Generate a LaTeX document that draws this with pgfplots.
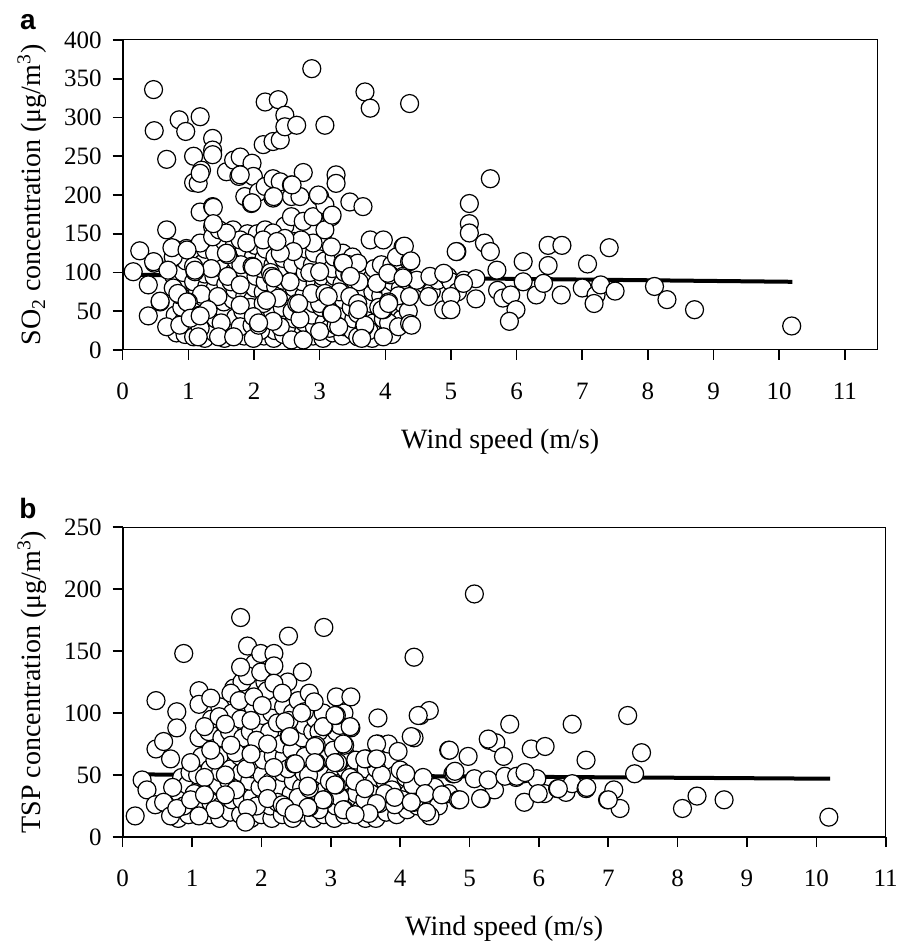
\documentclass[border=0pt]{standalone}
\usepackage{fontspec}
\setmainfont{Liberation Serif}
\newfontfamily\panelfont{Liberation Sans}
\usepackage{pgfplots}
\pgfplotsset{compat=1.18}

\newcommand\labfont{\fontsize{14}{16}\selectfont}
\pgfplotsset{
  panel/.style={
    scale only axis, height=155pt,
    xmin=0, ymin=0,
    xtick={0,1,...,11},
    tick align=outside, xtick pos=left, ytick pos=left,
    major tick length=5pt,
    every tick/.style={black, line width=0.8pt},
    axis line style={line width=0.5pt},
    tick label style={font=\fontsize{12.5}{14}\selectfont},
    xticklabel style={yshift=-8pt},
    yticklabel style={xshift=-2pt},
    /pgf/number format/assume math mode=true,
    scaled ticks=false,
    every axis x label/.style={at={(axis description cs:0.5,0)}, anchor=center, yshift=-46pt, font=\labfont},
  },
  dots/.style={only marks, mark=*, mark size=4.5pt,
    mark options={fill=white, draw=black, line width=0.6pt}},
  fit/.style={line width=2pt, black, no marks},
}

\begin{document}
\begin{tikzpicture}
% panel a: SO2
\begin{axis}[panel, width=377.5pt, xmax=11.5, ymax=400,
  ytick={0,50,...,400},
  xlabel={Wind speed (m/s)},
  ylabel={SO\textsubscript{2} concentration (μg/m\textsuperscript{3})},
  every axis y label/.style={at={(axis description cs:-0.12,0.5)}, rotate=90, anchor=center, font=\labfont},
  at={(0,0)}, anchor=south west]
\addplot[dots] coordinates {
(0.82,22) (0.8,45) (0.78,95) (0.85,110)
(0.95,20) (0.93,38) (0.97,85) (0.92,100) (0.96,115)
(1.12,25) (1.1,55) (1.14,75) (1.08,88) (1.12,120)
(1.25,15) (1.27,35) (1.24,60) (1.28,82) (1.25,98) (1.22,112) (1.26,130)
(1.4,22) (1.42,40) (1.38,58) (1.41,80) (1.39,95) (1.43,110) (1.4,125)
(1.55,15) (1.53,30) (1.56,48) (1.54,62) (1.57,85) (1.52,105) (1.55,140)
(1.7,25) (1.72,42) (1.68,65) (1.71,78) (1.69,100) (1.73,115) (1.7,135) (1.68,155)
(1.85,18) (1.87,40) (1.83,50) (1.86,70) (1.84,95) (1.88,118) (1.85,130) (1.9,150)
(2.0,22) (2.02,50) (1.98,65) (2.01,80) (2.03,95) (1.99,120) (2.02,135) (2.05,150)
(2.15,18) (2.13,28) (2.16,45) (2.14,75) (2.17,88) (2.12,105) (2.15,118) (2.18,130)
(2.3,15) (2.32,25) (2.28,50) (2.31,70) (2.33,82) (2.29,110) (2.32,120)
(2.45,20) (2.47,35) (2.43,55) (2.46,75) (2.44,90) (2.48,105) (2.45,118) (2.47,160)
(2.6,25) (2.62,40) (2.58,50) (2.61,80) (2.63,95) (2.59,110) (2.62,140)
(2.75,22) (2.77,35) (2.73,50) (2.76,70) (2.74,88) (2.78,100) (2.75,115) (2.8,130)
(2.9,18) (2.92,30) (2.88,45) (2.91,60) (2.93,85) (2.89,110) (2.92,125)
(3.05,15) (3.07,35) (3.03,55) (3.06,85) (3.04,95) (3.08,115) (3.05,140)
(3.2,22) (3.22,40) (3.18,60) (3.21,80) (3.23,95) (3.19,105) (3.22,120)
(3.35,18) (3.37,30) (3.33,50) (3.36,65) (3.34,85) (3.38,100) (3.35,125)
(3.5,25) (3.52,40) (3.48,55) (3.51,78) (3.53,90) (3.5,120)
(3.65,20) (3.67,42) (3.63,65) (3.66,80) (3.64,95)
(3.8,15) (3.82,35) (3.78,60) (3.81,75) (3.79,92) (3.83,105)
(3.95,25) (3.97,40) (3.93,70) (3.96,85) (3.94,110)
(4.1,20) (4.12,45) (4.08,75) (4.11,88) (4.1,110)
(4.25,40) (4.27,60) (4.23,80) (4.26,105)
(4.5,80) (4.6,85) (4.7,75) (4.8,90) (4.95,95) (5.0,88) (5.1,75) (5.2,90)
(0.9,55) (1.05,30) (1.2,72) (1.35,105) (1.5,35) (1.65,88) (1.8,110)
(1.95,55) (2.1,25) (2.25,100) (2.4,30) (2.55,88) (2.7,40) (2.85,100)
(3.0,60) (3.15,28) (3.3,75) (3.45,110) (3.6,88) (3.75,25) (3.9,55)
(4.05,35) (4.2,70) (4.35,50)
(0.16,101) (0.26,128) (0.47,336) (0.48,283) (0.39,44) (0.48,112) (0.39,84)
(0.57,62) (0.67,246) (0.67,155) (0.67,30) (0.86,297) (0.77,131) (0.77,120)
(0.77,80) (0.87,71) (0.87,32) (0.97,131) (0.96,282) (1.18,301) (1.08,250)
(1.2,232) (1.08,216) (1.18,178) (1.37,185) (1.37,273) (1.37,258) (1.37,252)
(1.18,138) (1.37,159) (1.37,146) (1.08,108) (1.1,101) (1.0,62) (1.08,49)
(1.18,45) (1.08,17) (1.18,28) (1.45,69) (1.46,17) (1.58,230) (1.69,245)
(1.79,249) (1.77,224) (1.47,155) (1.6,123) (1.6,95) (1.79,142) (1.79,84)
(1.79,58) (1.79,30) (1.69,17) (1.97,241) (1.99,224) (1.86,198) (1.96,189)
(1.89,138) (1.97,108) (1.97,32) (1.99,15) (2.14,265) (2.17,320) (2.29,269)
(2.4,271) (2.37,323) (2.47,303) (2.47,288) (2.65,290) (2.07,204) (2.17,211)
(2.29,221) (2.29,196) (2.4,217) (2.57,213) (2.57,198) (2.7,198) (2.75,229)
(2.57,172) (2.75,166) (2.9,172) (2.9,138) (2.72,142) (2.17,155) (2.29,151)
(2.47,144) (2.6,127) (2.4,125) (2.14,142) (2.27,95) (2.14,60) (2.37,67)
(2.07,32) (2.29,37) (2.57,13) (2.75,13) (2.65,60) (2.88,363) (3.08,290)
(3.0,198) (3.08,187) (3.18,172) (3.08,155) (3.18,133) (3.25,226) (3.25,215)
(3.46,191) (3.66,185) (2.88,73) (3.0,101) (3.08,73) (3.18,47) (3.0,24)
(3.25,32) (3.35,112) (3.46,97) (3.46,69) (3.58,112) (3.58,60) (3.58,47)
(3.68,30) (3.58,17) (3.69,333) (3.77,312) (3.77,142) (3.97,142) (3.87,86)
(3.97,52) (4.05,62) (4.07,97) (3.97,17) (4.2,30) (4.27,133) (4.17,120)
(4.37,114) (4.37,318) (4.27,95) (4.37,69) (4.37,34) (4.29,134) (4.39,115)
(0.47,114) (0.57,63) (0.75,132) (0.69,103) (0.84,73) (0.98,129) (0.98,62)
(1.03,41) (1.1,103) (1.3,52) (1.58,125) (1.58,151) (1.99,107) (1.99,43)
(2.07,35) (2.19,64) (2.3,93) (2.35,140) (1.97,190) (1.79,226) (1.15,215)
(1.18,228) (2.3,198) (1.38,184) (1.38,163) (1.15,17) (1.18,44)
(2.98,200) (3.19,174) (2.58,213) (3.36,112) (3.47,95) (4.04,99) (3.95,52)
(3.69,32) (3.59,52) (3.64,15) (3.29,30) (3.19,47) (3.13,69) (2.68,60)
(4.48,90) (4.68,95) (4.89,99) (4.66,69) (4.89,52) (4.4,32) (4.05,60)
(4.27,93) (5.09,127)
(5.6,221) (5.28,189) (5.28,163) (5.28,151) (5.08,127) (5.51,138) (5.6,127)
(5.7,103) (5.38,92) (5.19,86) (5.0,69) (5.0,52) (5.38,66) (5.71,77)
(5.79,67) (5.91,71) (5.99,52) (5.89,37) (6.1,114) (6.1,88) (6.3,71)
(6.41,86) (6.48,135) (6.69,135) (6.48,109) (6.68,71) (7.0,80) (7.08,111)
(7.21,71) (7.18,60) (7.28,84) (7.5,76) (7.41,132) (8.1,82) (8.29,65)
(8.71,52) (10.19,31)
};
\addplot[fit] coordinates {(0.2,97) (10.2,88)};
\draw[line width=1pt] (rel axis cs:0,1) -- (rel axis cs:0,0) -- (rel axis cs:1,0);
\end{axis}

% panel b: TSP
\begin{axis}[panel, width=381.5pt, xmax=11, ymax=250,
  ytick={0,50,...,250},
  xlabel={Wind speed (m/s)},
  ylabel={TSP concentration (μg/m\textsuperscript{3})},
  every axis y label/.style={at={(axis description cs:-0.1187,0.5)}, rotate=90, anchor=center, font=\labfont},
  at={(0,-243.5pt)}, anchor=south west]
\addplot[dots] coordinates {
(0.82,35) (0.85,48) (0.8,15)
(0.95,18) (0.93,42) (0.97,52)
(1.1,25) (1.12,40) (1.08,50) (1.14,65) (1.1,80)
(1.25,18) (1.27,28) (1.23,45) (1.26,55) (1.24,85) (1.28,95)
(1.4,15) (1.42,25) (1.38,42) (1.41,52) (1.39,65) (1.43,80) (1.4,105)
(1.55,20) (1.57,30) (1.53,45) (1.56,55) (1.54,85) (1.58,100) (1.6,120)
(1.7,18) (1.72,30) (1.68,40) (1.71,52) (1.69,65) (1.73,80) (1.7,95) (1.72,125)
(1.85,15) (1.87,32) (1.83,45) (1.86,55) (1.84,85) (1.88,105) (1.9,140)
(2.0,18) (2.02,28) (1.98,40) (2.01,50) (2.03,62) (1.99,88) (2.02,98) (2.05,125)
(2.15,15) (2.13,25) (2.16,35) (2.14,45) (2.17,65) (2.12,85) (2.15,100) (2.18,110)
(2.3,18) (2.32,30) (2.28,40) (2.31,52) (2.33,65) (2.29,75) (2.32,105)
(2.45,15) (2.47,25) (2.43,35) (2.46,45) (2.44,70) (2.48,88) (2.45,100)
(2.6,20) (2.62,30) (2.58,40) (2.61,52) (2.63,65) (2.59,80) (2.62,90)
(2.75,15) (2.77,28) (2.73,45) (2.76,55) (2.74,85) (2.78,95)
(2.9,18) (2.92,38) (2.88,50) (2.91,65) (2.93,78) (2.89,100)
(3.05,15) (3.07,25) (3.03,35) (3.06,50) (3.04,70) (3.08,85)
(3.2,18) (3.22,30) (3.18,45) (3.21,55) (3.23,65) (3.19,100)
(3.35,25) (3.37,35) (3.33,52) (3.36,62)
(3.5,15) (3.52,25) (3.48,45) (3.51,55)
(3.65,15) (3.67,35) (3.63,45) (3.66,55)
(3.8,20) (3.82,30) (3.78,45)
(3.95,18) (3.97,40) (3.93,50)
(4.1,22) (4.12,35) (4.08,48)
(4.25,25) (4.27,38)
(4.45,28) (4.5,40) (4.55,25)
(0.72,40) (0.88,25) (1.03,35) (1.18,48) (1.33,22) (1.48,50) (1.63,38)
(1.78,55) (1.93,25) (2.08,42) (2.23,28) (2.38,55) (2.53,32) (2.68,50)
(2.83,22) (2.98,45) (3.13,32) (3.28,48) (3.43,22) (3.58,35) (3.73,50)
(3.88,38) (4.03,30) (4.18,42) (4.33,48) (1.33,62) (1.63,68) (1.93,78)
(2.23,92) (2.53,110) (2.83,85) (3.13,90) (2.38,125) (2.08,118)
(0.18,17) (0.28,46) (0.35,38) (0.48,110) (0.48,71) (0.59,77) (0.47,26)
(0.59,28) (0.69,17) (0.69,63) (0.78,101) (0.78,88) (0.78,23) (0.88,148)
(0.98,60) (0.98,30) (1.1,118) (1.1,107) (1.18,89) (1.27,112) (1.27,70)
(1.18,34) (1.1,17) (1.39,97) (1.48,91) (1.48,34) (1.56,74) (1.7,177)
(1.8,154) (1.8,130) (1.7,137) (1.8,23) (1.77,12) (1.56,116) (1.68,110)
(1.85,94) (1.85,67) (1.89,113) (1.99,148) (1.99,133) (2.18,148) (2.18,138)
(2.18,124) (2.01,106) (2.09,75) (2.18,56) (2.09,31) (2.39,162) (2.3,116)
(2.4,94) (2.4,81) (2.47,59) (2.3,26) (2.59,133) (2.62,101) (2.69,116)
(2.76,109) (2.79,74) (2.79,60) (2.69,39) (2.69,24) (2.9,169) (2.9,89)
(2.91,30) (3.08,113) (3.08,98) (3.1,60) (3.08,42) (3.29,113) (3.29,88)
(3.2,74) (3.2,22) (3.51,63) (3.49,30) (3.68,96) (3.68,75) (3.7,27)
(3.83,75) (3.97,69) (4.0,54) (3.92,26) (4.2,145) (4.2,80) (4.29,98)
(4.42,102) (4.2,28) (4.43,17) (4.7,70) (4.7,35)
(2.58,100) (2.89,89) (3.06,98) (3.28,89) (2.34,93) (2.41,81) (2.77,73)
(3.18,75) (3.66,75) (4.16,81) (4.26,98) (3.49,63) (3.66,63) (2.77,60)
(3.06,60) (2.49,59) (4.08,51) (4.76,51) (2.67,41) (3.06,42) (3.35,45)
(3.49,39) (3.78,35) (3.92,32) (4.36,35) (4.6,34) (4.84,30) (2.89,30)
(2.67,24) (3.18,22) (3.66,27) (3.55,19) (4.16,28) (4.38,20) (2.34,24)
(2.47,19) (3.35,18)
(5.07,196) (5.58,91) (5.28,78) (5.38,76) (5.49,65) (4.98,65) (4.71,70)
(4.78,51) (5.07,47) (4.86,30) (5.17,31) (5.36,38) (5.67,48) (5.79,51)
(5.89,71) (6.09,73) (5.97,47) (5.79,28) (6.08,35) (6.27,39) (6.39,36)
(6.48,91) (6.48,43) (6.68,62) (6.68,39) (6.99,30) (7.08,38) (7.17,23)
(7.28,98) (7.48,68) (7.38,51) (8.07,23) (8.28,33) (8.67,30) (10.18,16)
(5.27,79) (4.79,53) (5.27,46) (5.51,49) (5.68,49) (5.8,52) (5.16,31)
(5.99,35) (6.28,39) (6.69,40) (7.0,30)
};
\addplot[fit] coordinates {(0.2,50.5) (10.2,47)};
\draw[line width=1pt] (rel axis cs:0,1) -- (rel axis cs:0,0) -- (rel axis cs:1,0);
\end{axis}

\node[font=\panelfont\bfseries\fontsize{14}{16}\selectfont] at (-47.4pt,164pt) {a};
\node[font=\panelfont\bfseries\fontsize{14}{16}\selectfont] at (-47.4pt,-79pt) {b};
\pgfresetboundingbox
\useasboundingbox (-61.35pt,-295.5pt) rectangle (392.15pt,175pt);
\end{tikzpicture}
\end{document}
